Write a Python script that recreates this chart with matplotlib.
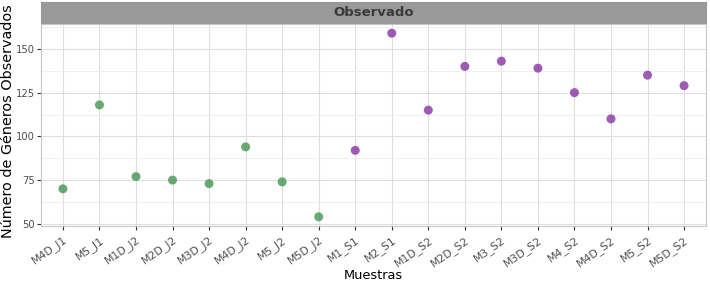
import numpy as np
import matplotlib.pyplot as plt
from matplotlib.ticker import MultipleLocator

# datos
muestras = ["M4D_J1", "M5_J1", "M1D_J2", "M2D_J2", "M3D_J2", "M4D_J2", "M5_J2", "M5D_J2",
            "M1_S1", "M2_S1", "M1D_S2", "M2D_S2", "M3_S2", "M3D_S2", "M4_S2", "M4D_S2",
            "M5_S2", "M5D_S2"]
observado = [70, 118, 77, 75, 73, 94, 74, 54,
             92, 159, 115, 140, 143, 139, 125, 110, 135, 129]
grupo = ["J"] * 8 + ["S"] * 10
colores = {"J": "#4e9a5c", "S": "#8e3fa8"}

fig = plt.figure(figsize=(7.1, 2.83), dpi=100)
W, H = 710, 283
ax = fig.add_axes([41 / W, 1 - 226 / H, (706 - 41) / W, (226 - 24) / H])

x = np.arange(len(muestras))
for g in ["J", "S"]:
    idx = [i for i, gg in enumerate(grupo) if gg == g]
    ax.scatter(x[idx], [observado[i] for i in idx], s=42, color=colores[g],
               alpha=0.85, edgecolors="none", zorder=3)

ymin, ymax = min(observado), max(observado)
pad = (ymax - ymin) * 0.05
ax.set_ylim(ymin - pad, ymax + pad)
ax.set_xlim(-0.6, len(muestras) - 0.4)

ax.yaxis.set_major_locator(MultipleLocator(25))
ax.yaxis.set_minor_locator(MultipleLocator(12.5))
ax.set_xticks(x)
ax.set_xticklabels(muestras, rotation=35, ha="right", rotation_mode="anchor",
                   fontsize=7.8, color="#4d4d4d")
ax.tick_params(axis="y", labelsize=7.2, labelcolor="#4d4d4d", length=3, color="#333333", pad=1.5)
ax.tick_params(axis="x", length=3, color="#333333", pad=3)
ax.tick_params(axis="y", which="minor", length=0)

ax.grid(True, which="major", color="#dedede", linewidth=0.8)
ax.grid(True, which="minor", axis="y", color="#ececec", linewidth=0.6)
ax.set_axisbelow(True)
for s in ax.spines.values():
    s.set_color("#c8c8c8")
    s.set_linewidth(0.8)

ax.set_xlabel("Muestras", fontsize=9.3, labelpad=0)
ax.set_ylabel("Número de Géneros Observados", fontsize=10.4)
ax.yaxis.set_label_coords((15 - 41) / 665, (226 - 121) / 202)

# franja del panel
strip = fig.add_axes([41 / W, 1 - 23 / H, (706 - 41) / W, 21 / H])
strip.set_facecolor("#999999")
strip.set_xticks([])
strip.set_yticks([])
for s in strip.spines.values():
    s.set_color("#999999")
strip.text(0.5, 0.5, "Observado", ha="center", va="center", fontsize=9.5,
           fontweight="bold", color="#3a3a3a", transform=strip.transAxes)

fig.savefig("out.png", dpi=100)
